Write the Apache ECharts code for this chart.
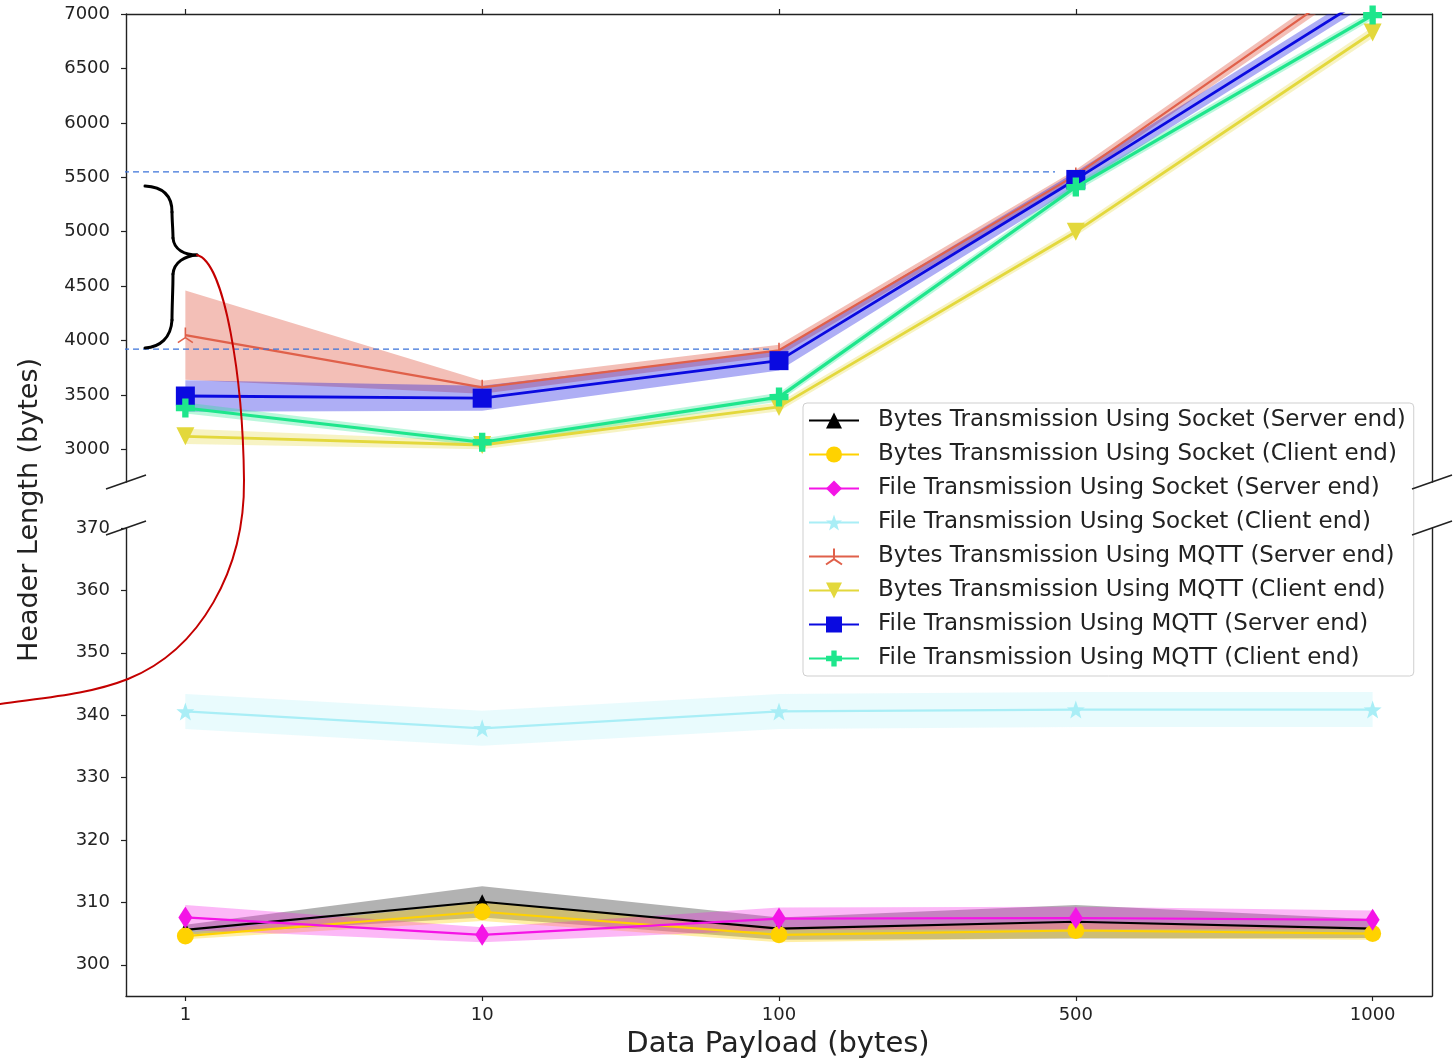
<!DOCTYPE html>
<html><head><meta charset="utf-8">
<script src="https://cdn.jsdelivr.net/npm/echarts@6/dist/echarts.min.js"></script>
<style>html,body{margin:0;padding:0;background:#fff}#c{width:1455px;height:1060px}</style>
</head><body><div id="c"></div>
<script>
// ---- data ----
const payloads = ['1', '10', '100', '500', '1000'];
const payloadIndex = [0, 1, 2, 3, 4];
const topTicks = [3000, 3500, 4000, 4500, 5000, 5500, 6000, 6500, 7000];
const bottomTicks = [300, 310, 320, 330, 340, 350, 360, 370];
const topRange = [2700, 7000];
const bottomRange = [295, 370];

const names = [
  'Bytes Transmission Using Socket (Server end)',
  'Bytes Transmission Using Socket (Client end)',
  'File Transmission Using Socket (Server end)',
  'File Transmission Using Socket (Client end)',
  'Bytes Transmission Using MQTT (Server end)',
  'Bytes Transmission Using MQTT (Client end)',
  'File Transmission Using MQTT (Server end)',
  'File Transmission Using MQTT (Client end)'
];

const bytesSocketServer = [305.6, 310.1, 305.8, 306.9, 305.8];
const bytesSocketServerSpread = [0.8, 2.5, 1.8, 2.7, 1.5];
const bytesSocketClient = [304.6, 308.5, 304.8, 305.5, 305.0];
const bytesSocketClientSpread = [0.5, 1.5, 1.2, 1.2, 1.0];
const fileSocketServer = [307.6, 304.8, 307.4, 307.5, 307.2];
const fileSocketServerSpread = [2.0, 1.2, 1.8, 1.8, 1.5];
const fileSocketClient = [340.6, 337.9, 340.6, 340.9, 340.9];
const fileSocketClientSpread = [2.8, 2.8, 2.8, 2.8, 2.8];

const bytesMqttServer = [4050, 3570, 3910, 5520, 7420];
const bytesMqttServerSpread = [410, 60, 50, 50, 60];
const bytesMqttClient = [3120, 3040, 3390, 5000, 6830];
const bytesMqttClientSpread = [70, 40, 40, 40, 50];
const fileMqttServer = [3490, 3470, 3815, 5480, 7190];
const fileMqttServerSpread = [145, 115, 90, 70, 70];
const fileMqttClient = [3380, 3065, 3480, 5410, 6990];
const fileMqttClientSpread = [50, 35, 40, 40, 40];

// annotation guide lines (value level, x end in category index units)
const guideLevels = [5550, 3920];
const guideStart = -0.21;
const guideEnds = [2.93, 1.97];

// ---- styling ----
const FONT = '"DejaVu Sans", sans-serif';
function starPath() {
  let d = '';
  for (let k = 0; k < 10; k++) {
    const r = k % 2 === 0 ? 10 : 4;
    const a = -Math.PI / 2 + k * Math.PI / 5;
    d += (k === 0 ? 'M' : 'L') + (r * Math.cos(a)).toFixed(2) + ',' + (r * Math.sin(a)).toFixed(2);
  }
  return 'path://' + d + 'Z';
}
const plusPath = 'path://M-1,-3L1,-3L1,-1L3,-1L3,1L1,1L1,3L-1,3L-1,1L-3,1L-3,-1L-1,-1Z';
const triPath = 'path://M0,-10L0,0M0,0L-8.66,5M0,0L8.66,5';

function rgba(hex, a) {
  const n = parseInt(hex.slice(1), 16);
  return 'rgba(' + ((n >> 16) & 255) + ',' + ((n >> 8) & 255) + ',' + (n & 255) + ',' + a + ')';
}

const defs = [
  { mean: bytesSocketServer, spread: bytesSocketServerSpread, color: '#000000', alpha: 0.3, symbol: 'triangle', size: 15, width: 2.2, panel: 1 },
  { mean: bytesSocketClient, spread: bytesSocketClientSpread, color: '#ffd200', alpha: 0.35, symbol: 'circle', size: 17, width: 2.2, panel: 1 },
  { mean: fileSocketServer, spread: fileSocketServerSpread, color: '#f414e6', alpha: 0.3, symbol: 'diamond', size: [14, 22], width: 2.2, panel: 1 },
  { mean: fileSocketClient, spread: fileSocketClientSpread, color: '#a9eef6', alpha: 0.25, symbol: starPath(), size: 18, width: 2.2, panel: 1 },
  { mean: bytesMqttServer, spread: bytesMqttServerSpread, color: '#e0604a', alpha: 0.4, symbol: triPath, size: 15, width: 2.2, panel: 0, stroke: true },
  { mean: bytesMqttClient, spread: bytesMqttClientSpread, color: '#e3d83c', alpha: 0.3, symbol: 'triangle', rotate: 180, size: 18, width: 2.8, panel: 0 },
  { mean: fileMqttServer, spread: fileMqttServerSpread, color: '#0a0ae0', alpha: 0.33, symbol: 'rect', size: 19, width: 2.8, panel: 0 },
  { mean: fileMqttClient, spread: fileMqttClientSpread, color: '#1ee68c', alpha: 0.3, symbol: plusPath, size: 19, width: 3.2, panel: 0 }
];

const series = [];
defs.forEach(function (s, k) {
  const xi = s.panel === 0 ? 0 : 1;
  const yi = s.panel === 0 ? 0 : 2;
  series.push({
    type: 'custom', xAxisIndex: xi, yAxisIndex: yi, silent: true, clip: true, z: 1,
    data: payloadIndex.map(function (i) { return [i, s.mean[i] - s.spread[i], s.mean[i] + s.spread[i]]; }),
    encode: { x: 0, y: [1, 2] },
    renderItem: function (params, api) {
      if (params.dataIndex !== 0) return null;
      const pts = [];
      for (let i = 0; i < payloadIndex.length; i++) pts.push(api.coord([payloadIndex[i], s.mean[i] + s.spread[i]]));
      for (let i = payloadIndex.length - 1; i >= 0; i--) pts.push(api.coord([payloadIndex[i], s.mean[i] - s.spread[i]]));
      return { type: 'polygon', shape: { points: pts }, style: { fill: rgba(s.color, s.alpha) } };
    }
  });
});
defs.forEach(function (s, k) {
  const xi = s.panel === 0 ? 0 : 1;
  const yi = s.panel === 0 ? 0 : 2;
  series.push({
    type: 'line', name: names[k], xAxisIndex: xi, yAxisIndex: yi, clip: true, z: 3 + k,
    data: payloadIndex.map(function (i) { return [i, s.mean[i]]; }),
    symbol: s.symbol, symbolSize: s.size, symbolRotate: s.rotate || 0, showSymbol: true,
    lineStyle: { color: s.color, width: s.width },
    itemStyle: s.stroke ? { color: 'rgba(0,0,0,0)', borderColor: s.color, borderWidth: 1.6 } : { color: s.color },
    emphasis: { disabled: true }, silent: true
  });
});
guideLevels.forEach(function (lv, k) {
  series.push({
    type: 'line', xAxisIndex: 0, yAxisIndex: 0, clip: false, z: 20, silent: true,
    data: [[guideStart, lv], [guideEnds[k], lv]], symbol: 'none',
    lineStyle: { color: '#3b73d9', width: 1.2, type: [6, 4] }
  });
});

const axisLineStyle = { color: '#222', width: 1.4 };
const tickStyle = { color: '#222', width: 1.2 };
const labelStyle = { color: '#222', fontSize: 18, fontFamily: FONT };
const plain = function (v) { return String(v); };

// free-hand annotation strokes (cubic segments: [x1,y1,cx1,cy1,cx2,cy2,x2,y2])
const braceSegs = [
  [145, 186, 165, 187, 172, 197, 172, 212],
  [172, 212, 172, 220, 173, 230, 173, 238],
  [173, 238, 174, 250, 185, 255, 197, 255],
  [197, 255, 185, 256, 174, 262, 173, 274],
  [173, 274, 173, 290, 172, 305, 172, 320],
  [172, 320, 171, 338, 160, 347, 145, 348]
];
const redSegs = [
  [197, 255, 225, 262, 243, 380, 244, 480],
  [244, 480, 245, 570, 200, 650, 128, 679],
  [128, 679, 90, 694, 50, 697, 0, 704]
];
function bez(seg, color, w) {
  return { type: 'bezierCurve', z: 60, silent: true,
    shape: { x1: seg[0], y1: seg[1], cpx1: seg[2], cpy1: seg[3], cpx2: seg[4], cpy2: seg[5], x2: seg[6], y2: seg[7] },
    style: { stroke: color, lineWidth: w, fill: null, lineCap: 'round' } };
}

const graphics = [
  { type: 'text', x: 30, y: 510, rotation: Math.PI / 2, z: 50,
    style: { text: 'Header Length (bytes)', font: '27px ' + FONT, fill: '#222', align: 'center', verticalAlign: 'middle' } },
  { type: 'text', x: 778, y: 1044, z: 50,
    style: { text: 'Data Payload (bytes)', font: '29px ' + FONT, fill: '#222', align: 'center', verticalAlign: 'middle' } },
  { type: 'line', z: 50, shape: { x1: 106, y1: 489, x2: 146, y2: 475 }, style: { stroke: '#222', lineWidth: 1.5 } },
  { type: 'line', z: 50, shape: { x1: 106, y1: 535, x2: 146, y2: 521 }, style: { stroke: '#222', lineWidth: 1.5 } },
  { type: 'line', z: 50, shape: { x1: 1412, y1: 489, x2: 1452, y2: 475 }, style: { stroke: '#222', lineWidth: 1.5 } },
  { type: 'line', z: 50, shape: { x1: 1412, y1: 535, x2: 1452, y2: 521 }, style: { stroke: '#222', lineWidth: 1.5 } }
];
braceSegs.forEach(function (s) { graphics.push(bez(s, '#000', 3)); });
redSegs.forEach(function (s) { graphics.push(bez(s, '#c40000', 2)); });

const option = {
  animation: false,
  backgroundColor: '#fff',
  grid: [
    { left: 126, right: 23, top: 14, height: 468 },
    { left: 126, right: 23, top: 528, height: 468 }
  ],
  xAxis: [
    { type: 'value', gridIndex: 0, position: 'top', min: -0.2, max: 4.2,
      axisLine: { show: true, onZero: false, lineStyle: axisLineStyle },
      axisTick: { show: true, length: 5, lineStyle: tickStyle, customValues: payloadIndex },
      axisLabel: { show: false, customValues: payloadIndex },
      splitLine: { show: false } },
    { type: 'value', gridIndex: 1, position: 'bottom', min: -0.2, max: 4.2,
      axisLine: { show: true, onZero: false, lineStyle: axisLineStyle },
      axisTick: { show: true, length: 5, lineStyle: tickStyle, customValues: payloadIndex },
      axisLabel: Object.assign({ show: true, margin: 10, customValues: payloadIndex,
        formatter: function (v) { return payloads[Math.round(v)]; } }, labelStyle),
      splitLine: { show: false } }
  ],
  yAxis: [
    { type: 'value', gridIndex: 0, position: 'left', min: topRange[0], max: topRange[1],
      axisLine: { show: true, onZero: false, lineStyle: axisLineStyle },
      axisTick: { show: true, length: 5, lineStyle: tickStyle, customValues: topTicks },
      axisLabel: Object.assign({ show: true, margin: 16, customValues: topTicks, formatter: plain }, labelStyle),
      splitLine: { show: false } },
    { type: 'value', gridIndex: 0, position: 'right', min: topRange[0], max: topRange[1],
      axisLine: { show: true, onZero: false, lineStyle: axisLineStyle }, axisTick: { show: false },
      axisLabel: { show: false }, splitLine: { show: false } },
    { type: 'value', gridIndex: 1, position: 'left', min: bottomRange[0], max: bottomRange[1],
      axisLine: { show: true, onZero: false, lineStyle: axisLineStyle },
      axisTick: { show: true, length: 5, lineStyle: tickStyle, customValues: bottomTicks },
      axisLabel: Object.assign({ show: true, margin: 16, customValues: bottomTicks, formatter: plain }, labelStyle),
      splitLine: { show: false } },
    { type: 'value', gridIndex: 1, position: 'right', min: bottomRange[0], max: bottomRange[1],
      axisLine: { show: true, onZero: false, lineStyle: axisLineStyle }, axisTick: { show: false },
      axisLabel: { show: false }, splitLine: { show: false } }
  ],
  legend: {
    data: names, orient: 'vertical', left: 803, top: 403,
    itemWidth: 50, itemHeight: 20, itemGap: 11,
    selectedMode: false,
    padding: [6, 8, 6, 5],
    backgroundColor: 'rgba(255,255,255,0.85)', borderColor: '#cfcfcf', borderWidth: 1, borderRadius: 4,
    textStyle: { fontSize: 23, fontFamily: FONT, color: '#222', lineHeight: 23, padding: [0, 0, 0, 14] }
  },
  series: series,
  graphic: graphics
};

const chart = echarts.init(document.getElementById('c'), null, { renderer: 'canvas' });
chart.setOption(option);
</script>
</body></html>
